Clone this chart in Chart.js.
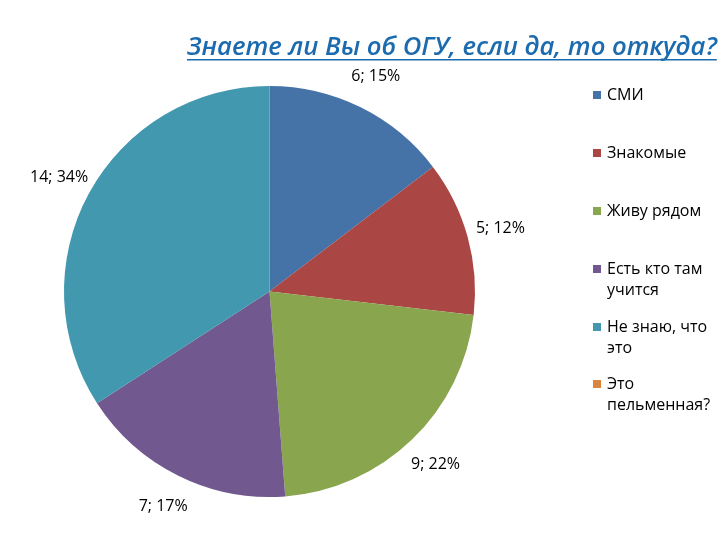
<!DOCTYPE html>
<html>
<head>
<meta charset="utf-8">
<script src="https://cdn.jsdelivr.net/npm/chart.js@4"></script>
<style>
  html, body { margin: 0; padding: 0; background: #fff; }
  #wrap { width: 720px; height: 540px; position: relative; }
</style>
</head>
<body>
<div id="wrap"><canvas id="pie"></canvas></div>
<script>
// ── Data ──────────────────────────────────────────────
const TITLE = 'Знаете ли Вы об ОГУ, если да, то откуда?';
const categories = ['СМИ', 'Знакомые', 'Живу рядом', 'Есть кто там учится', 'Не знаю, что это', 'Это пельменная?'];
const legendLines = [['СМИ'], ['Знакомые'], ['Живу рядом'], ['Есть кто там', 'учится'], ['Не знаю, что', 'это'], ['Это', 'пельменная?']];
const counts = [6, 5, 9, 7, 14, 0];
const colors = ['#4572A7', '#AA4643', '#89A54E', '#71588F', '#4198AF', '#DB843D'];

const FONT = "'Open Sans', 'DejaVu Sans', sans-serif";

// ── Title, slice labels and legend ────────────────────
const decorPlugin = {
  id: 'decor',
  afterDraw(chart) {
    const ctx = chart.ctx;
    ctx.save();

    // title (italic, underlined), stretched to the reference width
    ctx.font = `italic 600 24px ${FONT}`;
    const size = 24 * 530 / ctx.measureText(TITLE).width;
    ctx.font = `italic 600 ${size}px ${FONT}`;
    ctx.fillStyle = '#1B6BAE';
    ctx.textBaseline = 'alphabetic';
    ctx.textAlign = 'left';
    const tx = 187, ty = 55;
    ctx.fillText(TITLE, tx, ty);
    const tw = ctx.measureText(TITLE).width;
    ctx.fillRect(tx, ty + 4, tw, 1.5);

    // slice labels "n; p%"
    const total = counts.reduce((a, b) => a + b, 0);
    const meta = chart.getDatasetMeta(0);
    ctx.font = `16px ${FONT}`;
    ctx.fillStyle = '#000';
    ctx.textAlign = 'center';
    ctx.textBaseline = 'middle';
    meta.data.forEach((arc, i) => {
      if (!counts[i]) return;
      const p = arc.getProps(['x', 'y', 'startAngle', 'endAngle', 'outerRadius'], true);
      const mid = (p.startAngle + p.endAngle) / 2;
      const r = p.outerRadius + 34;
      const pct = Math.round(counts[i] / total * 100);
      ctx.fillText(`${counts[i]}; ${pct}%`, p.x + Math.cos(mid) * r, p.y + Math.sin(mid) * r);
    });

    // legend
    const lx = 593;
    const rowY = [95, 153, 211, 269, 327, 384];
    ctx.textAlign = 'left';
    legendLines.forEach((lines, i) => {
      ctx.fillStyle = colors[i];
      ctx.fillRect(lx, rowY[i] - 4, 8, 8);
      ctx.fillStyle = '#000';
      lines.forEach((t, j) => ctx.fillText(t, lx + 14, rowY[i] + j * 21));
    });

    ctx.restore();
  },
};

new Chart(document.getElementById('pie'), {
  type: 'pie',
  data: {
    labels: categories,
    datasets: [{
      data: counts,
      backgroundColor: colors,
      borderWidth: 0,
    }],
  },
  options: {
    responsive: true,
    maintainAspectRatio: false,
    animation: false,
    layout: { padding: { left: 63, right: 244, top: 86, bottom: 43 } },
    plugins: {
      legend: { display: false },
      tooltip: { enabled: false },
      title: { display: false },
    },
  },
  plugins: [decorPlugin],
});
</script>
</body>
</html>
